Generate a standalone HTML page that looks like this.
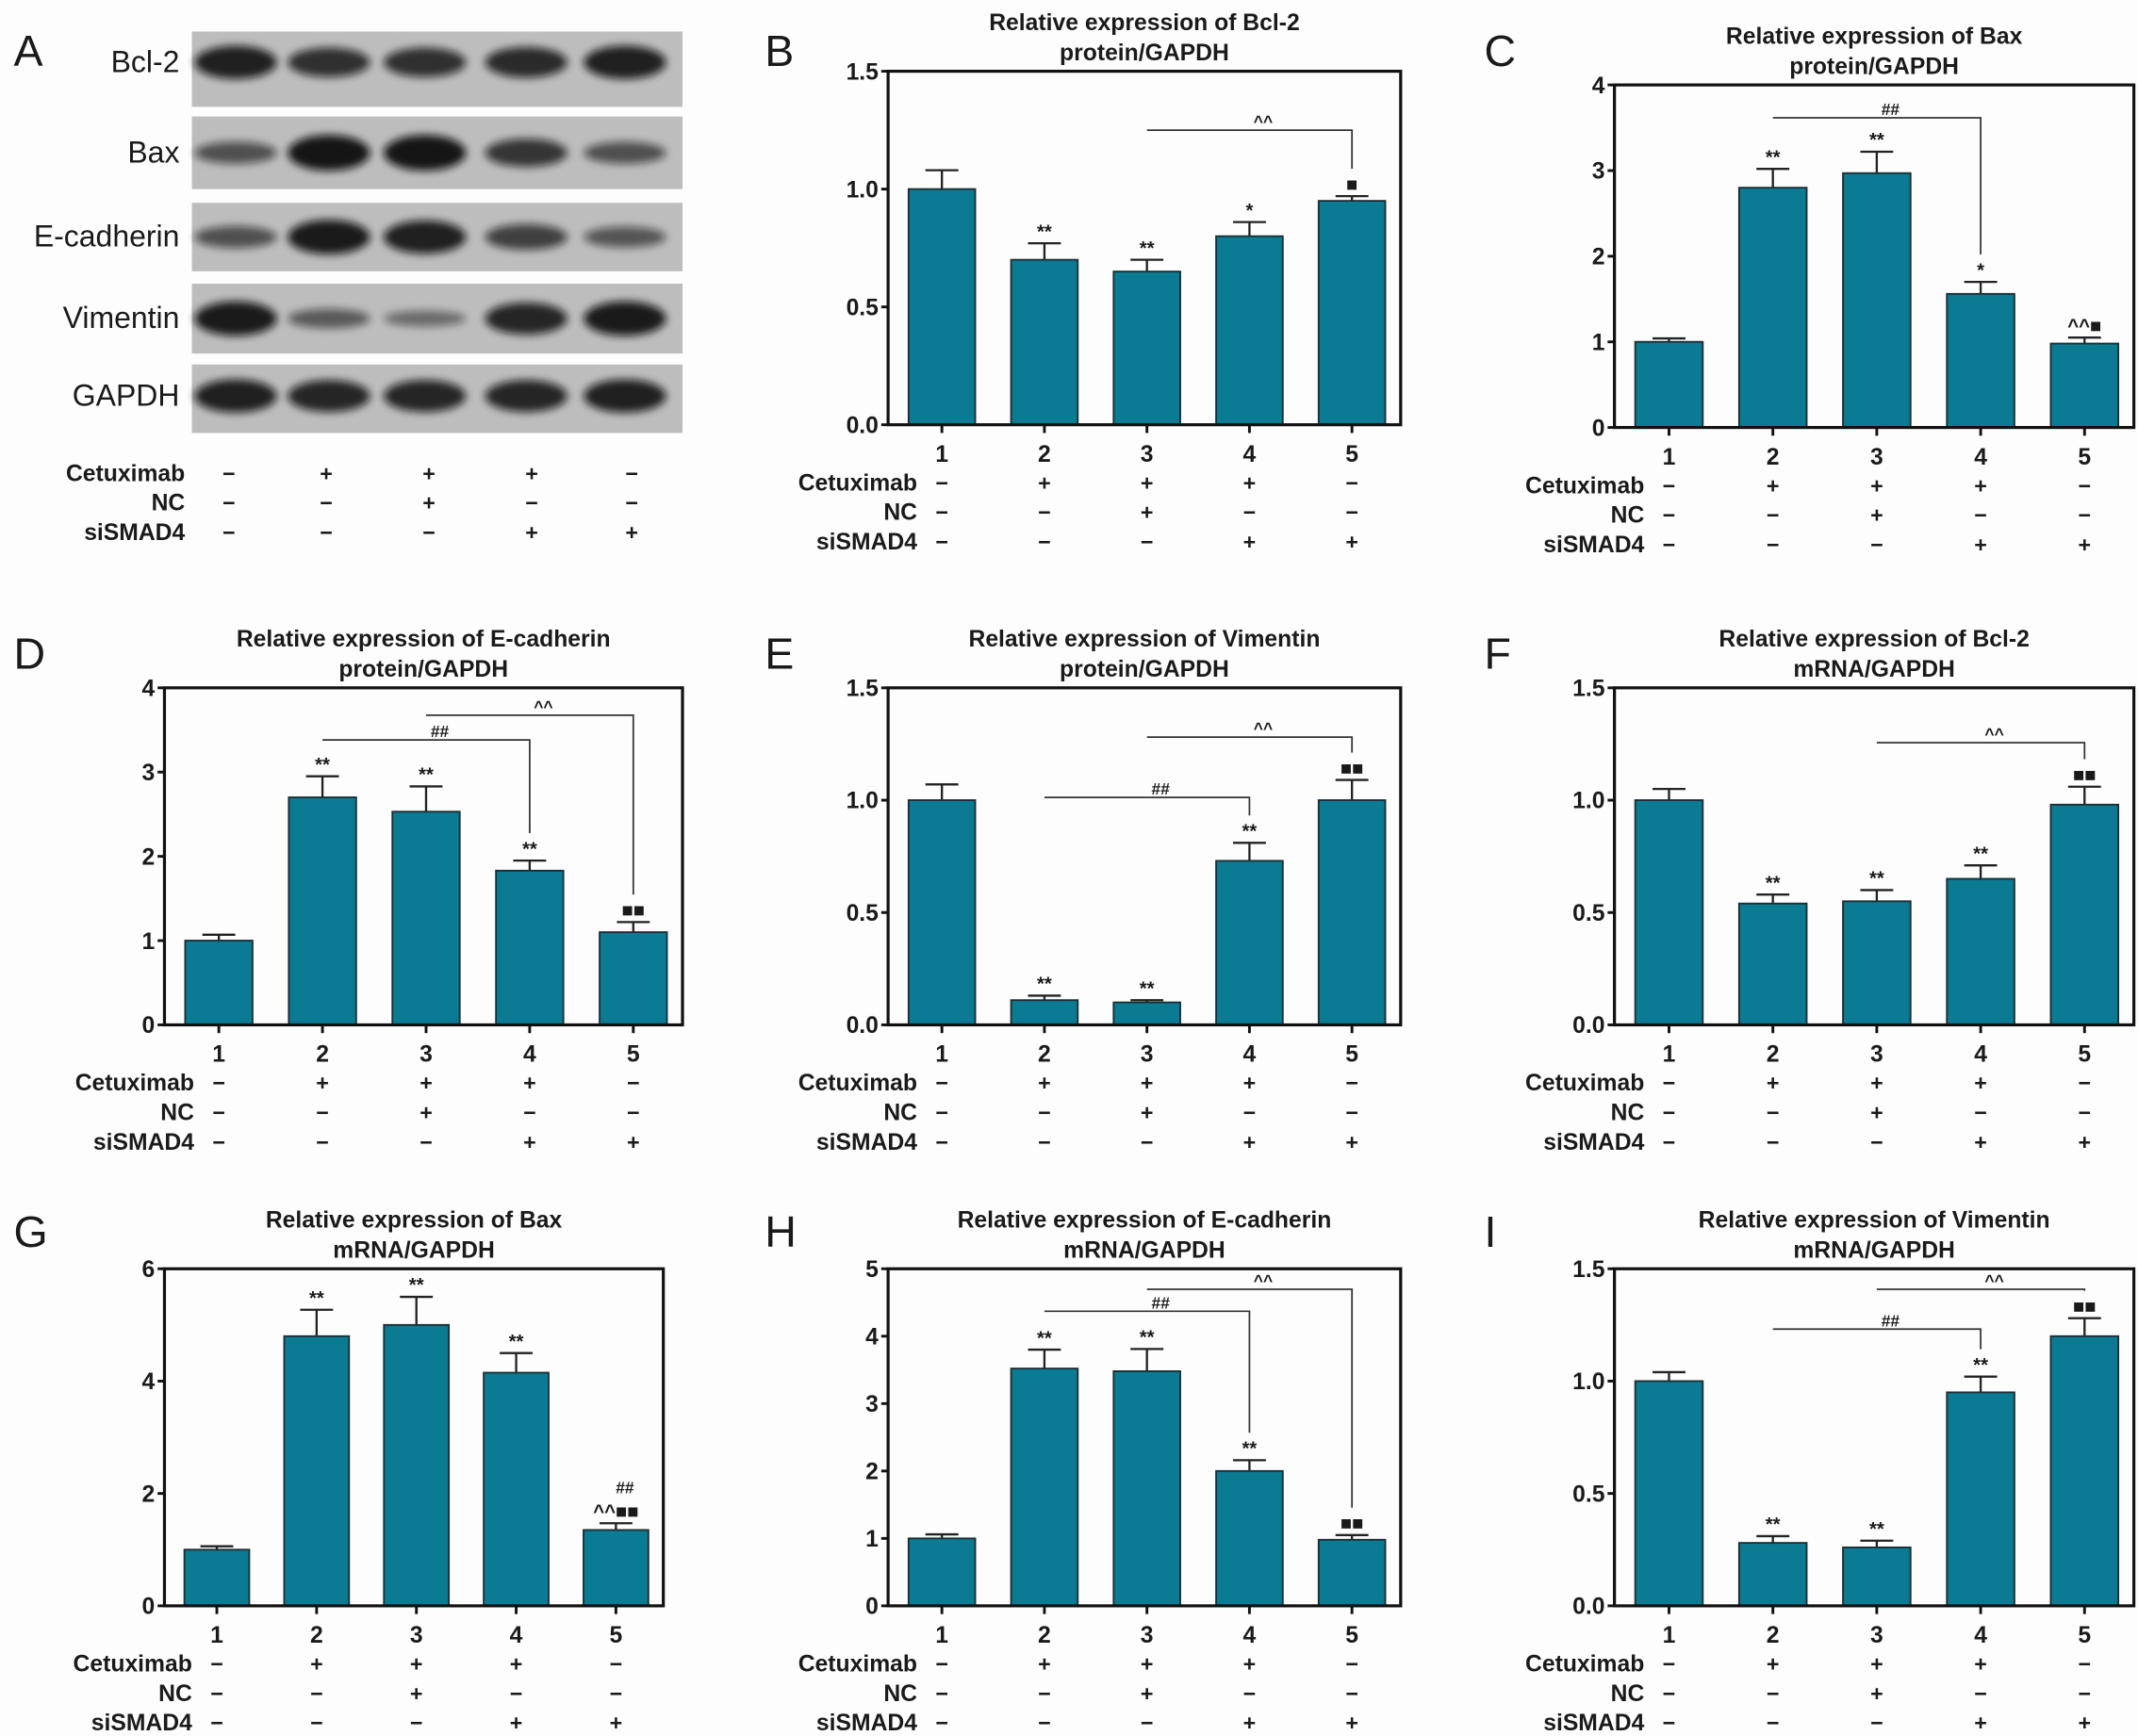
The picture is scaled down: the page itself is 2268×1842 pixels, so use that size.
<!DOCTYPE html>
<html><head><meta charset="utf-8"><style>
html,body{margin:0;padding:0;background:#fdfdfd;}
svg{display:block;font-family:"Liberation Sans Narrow","Liberation Sans",Arial,sans-serif;}
</style></head><body>
<svg id="fig" width="2268" height="1842" viewBox="0 0 1560 1267" preserveAspectRatio="none" xmlns="http://www.w3.org/2000/svg">
<defs><filter id="blur" x="-20%" y="-50%" width="140%" height="200%"><feGaussianBlur stdDeviation="3"/></filter></defs>
<rect x="0" y="0" width="1560" height="1267" fill="#fdfdfd"/>
</svg>
<script>
const categories = ['1','2','3','4','5'];
const treatRows = ['Cetuximab','NC','siSMAD4'];
const treatCetuximab = ['−','+','+','+','−'];
const treatNC = ['−','−','+','−','−'];
const treatSiSMAD4 = ['−','−','−','+','+'];

const blotRows = ['Bcl-2','Bax','E-cadherin','Vimentin','GAPDH'];
const bandBcl2 = [0.9,0.75,0.75,0.8,0.9];
const bandBax = [0.45,1.0,1.0,0.7,0.45];
const bandEcad = [0.45,0.95,0.9,0.6,0.4];
const bandVim = [0.95,0.35,0.2,0.85,0.95];
const bandGapdh = [0.9,0.85,0.85,0.85,0.9];

const bValues = [1.0,0.70,0.65,0.80,0.95];
const bErrors = [0.08,0.07,0.05,0.06,0.02];
const bMarks = ['','**','**','*','■'];
const cValues = [1.0,2.80,2.97,1.56,0.98];
const cErrors = [0.04,0.22,0.25,0.14,0.07];
const cMarks = ['','**','**','*','^^■'];
const dValues = [1.0,2.70,2.53,1.83,1.10];
const dErrors = [0.07,0.25,0.30,0.12,0.12];
const dMarks = ['','**','**','**','■■'];
const eValues = [1.0,0.11,0.10,0.73,1.0];
const eErrors = [0.07,0.02,0.01,0.08,0.09];
const eMarks = ['','**','**','**','■■'];
const fValues = [1.0,0.54,0.55,0.65,0.98];
const fErrors = [0.05,0.04,0.05,0.06,0.08];
const fMarks = ['','**','**','**','■■'];
const gValues = [1.0,4.80,5.00,4.15,1.35];
const gErrors = [0.06,0.47,0.50,0.35,0.12];
const gMarks = ['','**','**','**','^^■■'];
const hValues = [1.0,3.52,3.48,2.0,0.98];
const hErrors = [0.06,0.28,0.33,0.16,0.07];
const hMarks = ['','**','**','**','■■'];
const iValues = [1.0,0.28,0.26,0.95,1.20];
const iErrors = [0.04,0.03,0.03,0.07,0.08];
const iMarks = ['','**','**','**','■■'];

const svg = document.getElementById('fig');
const NS = 'http://www.w3.org/2000/svg';
function mk(tag, attrs, parent){
  const e = document.createElementNS(NS, tag);
  for (const k in attrs) e.setAttribute(k, attrs[k]);
  (parent||svg).appendChild(e);
  return e;
}
function txt(s, x, y, size, weight, anchor, parent){
  const t = mk('text', {x:x, y:y, 'font-size':size, 'font-weight':weight, 'text-anchor':anchor, fill:'#1a1a1a'}, parent);
  t.textContent = s;
  return t;
}

const letters = [['A',10,48],['B',558,48],['C',1083,48],['D',10,488],['E',558,488],['F',1083,488],['G',10,910],['H',558,910],['I',1083,910]];
letters.forEach(l=>{
  const t = txt(l[0], l[1], l[2], 32, 'normal', 'start');
  t.setAttribute('font-family', '"Liberation Sans", Arial, sans-serif');
  
  
});

function treatmentTable(g, cats, yBase, labelX){
  const sets = [treatCetuximab, treatNC, treatSiSMAD4];
  treatRows.forEach((r,ri)=>{
    const y = yBase + ri*21.5;
    const t = txt(r, labelX, y, 17, 'bold', 'end', g);
    
    
    sets[ri].forEach((s,ci)=>{
      const m = txt(s, cats[ci], y, 16, 'bold', 'middle', g);
      
      
    });
  });
}

(function(){
  const g = mk('g', {});
  
  
  const lanes = [172,240,310,384,456];
  const rowsY = [[23,78],[85,138],[148,198],[207,258],[266,316]];
  const bands = [bandBcl2,bandBax,bandEcad,bandVim,bandGapdh];
  blotRows.forEach((name,ri)=>{
    const [y0,y1] = rowsY[ri];
    const r = mk('rect', {x:140, y:y0, width:358, height:y1-y0, fill:'#bdbdbd'}, g);
    
    
    const cy = (y0+y1)/2 - (ri===0?5:ri===4?2:0);
    bands[ri].forEach((v,li)=>{
      const e = mk('ellipse', {cx:lanes[li], cy:cy, rx:30, ry:4+v*9, fill:'#111', opacity:0.35+v*0.6, filter:'url(#blur)'}, g);
      
      
    });
    const t = txt(name, 131, cy+7, 22, 'normal', 'end', g);
    
    
  });
  treatmentTable(g, [167,238,313,388,461], 351, 135);
})();

function barPanel(id, x0, x1, y0, y1, ymax, ticks, tickFmt, values, errors, marks, title1, title2, brackets){
  const g = mk('g', {});
  
  
  const w = x1 - x0;
  const cats = categories.map((c,i)=> x0 + w*(0.105 + i*0.2));
  const y = v => y1 - (v/ymax)*(y1-y0);
  const bw = w*0.13;
  const cx = (x0+x1)/2;
  const t1 = txt(title1, cx, y0-30, 17, 'bold', 'middle', g);
  
  
  const t2 = txt(title2, cx, y0-8, 17, 'bold', 'middle', g);
  
  
  values.forEach((v,i)=>{
    const top = y(v+errors[i]);
    const eb = mk('path', {d:`M${cats[i]},${y(v)} V${top} M${cats[i]-12},${top} H${cats[i]+12}`, stroke:'#222', 'stroke-width':1.6, fill:'none'}, g);
    
    
    const r = mk('rect', {x:cats[i]-bw/2, y:y(v), width:bw, height:y1-y(v), fill:'#0b7b93', stroke:'#1b2f35', 'stroke-width':1.3}, g);
    
    
    if (marks[i]){
      const m = txt(marks[i], cats[i], top-4, 14, 'bold', 'middle', g);
      
      
    }
  });
  brackets.forEach(b=>{
    const xa = cats[b.from], xb = cats[b.to];
    const endY = y(values[b.to]+errors[b.to]) - 20 - (b.extra||0);
    const p = mk('path', {d:`M${xa},${b.y} H${xb} V${endY}`, stroke:'#333', 'stroke-width':1.2, fill:'none'}, g);
    
    
    const l = txt(b.label, (xa+xb)/2 + 10, b.y - 2, 12, 'bold', 'middle', g);
    
    
  });
  const f = mk('rect', {x:x0, y:y0, width:w, height:y1-y0, fill:'none', stroke:'#111', 'stroke-width':2.2}, g);
  
  
  ticks.forEach(tv=>{
    const ty = y(tv);
    const tk = mk('line', {x1:x0-5, x2:x0, y1:ty, y2:ty, stroke:'#111', 'stroke-width':2}, g);
    
    
    const tl = txt(tickFmt(tv), x0-7, ty+6, 17, 'bold', 'end', g);
    
    
  });
  categories.forEach((c,i)=>{
    const tk = mk('line', {x1:cats[i], x2:cats[i], y1:y1, y2:y1+6, stroke:'#111', 'stroke-width':2}, g);
    
    
    const tl = txt(c, cats[i], y1+27, 17, 'bold', 'middle', g);
    
    
  });
  treatmentTable(g, cats, y1+48, cats[0]-18);
}
const f1 = v => v.toFixed(1);
const f0 = v => String(v);
barPanel('b', 648,1022, 52,310, 1.5, [0,0.5,1.0,1.5], f1, bValues,bErrors,bMarks, 'Relative expression of Bcl-2','protein/GAPDH', [{from:2,to:4,y:95,label:'^^'}]);
barPanel('c', 1178,1557, 62,312, 4, [0,1,2,3,4], f0, cValues,cErrors,cMarks, 'Relative expression of Bax','protein/GAPDH', [{from:1,to:3,y:86,label:'##'}]);
barPanel('d', 120,498, 502,748, 4, [0,1,2,3,4], f0, dValues,dErrors,dMarks, 'Relative expression of E-cadherin','protein/GAPDH', [{from:2,to:4,y:522,label:'^^'},{from:1,to:3,y:540,label:'##'}]);
barPanel('e', 648,1022, 502,748, 1.5, [0,0.5,1.0,1.5], f1, eValues,eErrors,eMarks, 'Relative expression of Vimentin','protein/GAPDH', [{from:2,to:4,y:538,label:'^^'},{from:1,to:3,y:582,label:'##'}]);
barPanel('f', 1178,1557, 502,748, 1.5, [0,0.5,1.0,1.5], f1, fValues,fErrors,fMarks, 'Relative expression of Bcl-2','mRNA/GAPDH', [{from:2,to:4,y:542,label:'^^'}]);
barPanel('g', 120,484, 926,1172, 6, [0,2,4,6], f0, gValues,gErrors,gMarks, 'Relative expression of Bax','mRNA/GAPDH', []);
barPanel('h', 648,1022, 926,1172, 5, [0,1,2,3,4,5], f0, hValues,hErrors,hMarks, 'Relative expression of E-cadherin','mRNA/GAPDH', [{from:2,to:4,y:941,label:'^^'},{from:1,to:3,y:957,label:'##'}]);
barPanel('i', 1178,1557, 926,1172, 1.5, [0,0.5,1.0,1.5], f1, iValues,iErrors,iMarks, 'Relative expression of Vimentin','mRNA/GAPDH', [{from:2,to:4,y:941,label:'^^'},{from:1,to:3,y:970,label:'##'}]);
(function(){
  const t = txt('##', 456, 1090, 12, 'bold', 'middle');
  
  
})();
</script>
</body></html>
